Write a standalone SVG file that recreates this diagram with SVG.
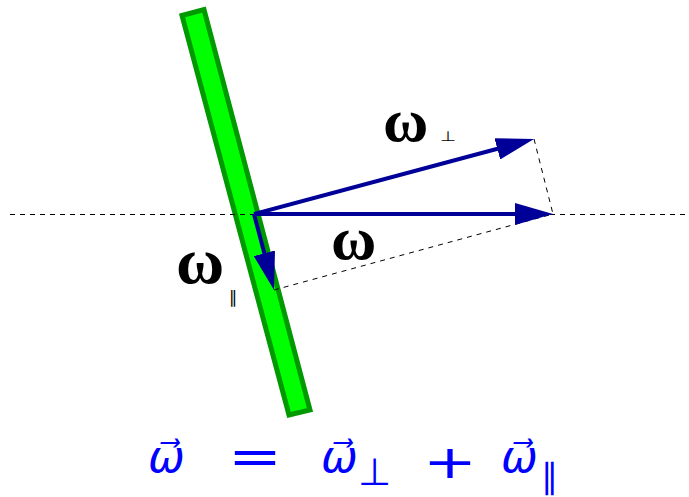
<svg xmlns="http://www.w3.org/2000/svg" width="689" height="497" viewBox="0 0 689 497">
<style>
.dash{stroke:#000;stroke-width:1;stroke-dasharray:5,5;fill:none}
.vec{stroke:#000099;stroke-width:4;fill:none}
.lbl{font-family:"Liberation Serif","DejaVu Serif",serif;font-weight:bold;fill:#000}
.sub{font-family:"DejaVu Sans",sans-serif;fill:#000}
.eq{font-family:"DejaVu Sans",sans-serif;fill:#0000ff}
.it{font-style:italic}
</style>
<defs>
<marker id="ah" markerUnits="userSpaceOnUse" markerWidth="38" markerHeight="22" refX="38" refY="11" orient="auto" viewBox="0 0 38 22">
<path d="M0,0 L38,11 L0,22 z" fill="#000099"/>
</marker>
</defs>
<g id="bar">
<polygon points="182,15.5 204,9.5 310,410 289,415" fill="#00ff00" stroke="#009900" stroke-width="5" stroke-linejoin="miter"/>
</g>
<g id="connectors">
<line class="dash" x1="10" y1="214.5" x2="689" y2="214.5"/>
<line class="dash" x1="534" y1="139" x2="553" y2="214"/>
<line class="dash" x1="274" y1="290" x2="553" y2="214"/>
<line class="vec" x1="254" y1="214" x2="523" y2="214"/>
<path d="M523,214 L553,214" stroke="none" marker-end="url(#ah)"/>
<line class="vec" x1="254" y1="214" x2="505" y2="146.8"/>
<path d="M505,146.8 L534,139" stroke="none" marker-end="url(#ah)"/>
<polyline class="vec" points="254,214 266.4,261"/>
<path d="M266.4,261 L274,290" stroke="none" marker-end="url(#ah)"/>
</g>
<g id="label-perp">
<text class="lbl" x="383" y="141" font-size="62">ω</text>
<text class="sub" x="440" y="141" font-size="14" textLength="16" lengthAdjust="spacingAndGlyphs">⊥</text>
</g>
<g id="label-omega">
<text class="lbl" x="331" y="259" font-size="62">ω</text>
</g>
<g id="label-par">
<text class="lbl" x="176" y="283" font-size="66">ω</text>
<text class="sub" x="229" y="303" font-size="17">∥</text>
</g>
<g id="equation">
<text class="eq it" x="148" y="472" font-size="44">ω⃗</text>
<text class="eq" x="228" y="473" font-size="48" textLength="54" lengthAdjust="spacingAndGlyphs">=</text>
<text class="eq it" x="321" y="472" font-size="44">ω⃗</text>
<text class="eq" x="358" y="485" font-size="38">⊥</text>
<text class="eq" x="423" y="478" font-size="46" textLength="54" lengthAdjust="spacingAndGlyphs">+</text>
<text class="eq it" x="501" y="472" font-size="44">ω⃗</text>
<text class="eq" x="541" y="488" font-size="34">∥</text>
</g>
</svg>
